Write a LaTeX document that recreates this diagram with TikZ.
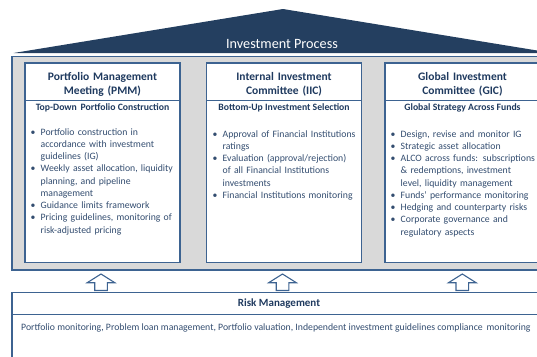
\documentclass[tikz,border=0pt]{standalone}
\usepackage{fontspec}
\setmainfont{Carlito}
\definecolor{roofblue}{HTML}{243F60}
\definecolor{edgeblue}{HTML}{3D6391}
\definecolor{titlenavy}{HTML}{1F3A5F}
\definecolor{bodyblue}{HTML}{334D70}
\definecolor{panelgray}{HTML}{D9D9D9}
\newcommand\bl[1]{\makebox[10pt][l]{\textbullet}#1}
\newcommand\cl[1]{\hspace*{10pt}#1}
\tikzset{
  colbox/.style={draw=edgeblue, line width=1.1pt, fill=white},
  coltitle/.style={anchor=base, text width=150pt, align=center, inner sep=0pt,
    text=titlenavy, font=\fontsize{11.5}{14.6}\selectfont\bfseries},
  colsub/.style={anchor=base, inner sep=0pt, text=titlenavy,
    font=\fontsize{9.7}{11}\selectfont\bfseries},
  colbody/.style={anchor=base west, text width=150pt, align=left, inner sep=0pt,
    text=bodyblue, font=\fontsize{9.75}{12.25}\selectfont},
  uparrow/.style={draw=edgeblue, line width=1.1pt, fill=white},
}
\begin{document}
\begin{tikzpicture}[x=1pt, y=-1pt]
\useasboundingbox (0,0) rectangle (537,356);
\begin{scope}
\clip (0,0) rectangle (537,356);

% roof
\fill[roofblue] (13.6,53) coordinate (roofL) -- (283,9) coordinate (apex)
  -- (552.4,53) coordinate (roofR) -- cycle;
\node[text=white, font=\fontsize{14.2}{16}\selectfont, inner sep=0pt, anchor=base]
  (roof) at (282,48.5) {Investment Process};

% gray panel holding the committees
\draw[edgeblue, line width=1.4pt, fill=panelgray] (12,56.5) rectangle (553,270);

% committee boxes
\draw[colbox] (25,63) rectangle (180,262.5);
\draw[edgeblue, line width=0.9pt] (25,100.7) -- (180,100.7);
\draw[colbox] (206.5,63) rectangle (361.5,262.5);
\draw[edgeblue, line width=0.9pt] (206.5,100.7) -- (361.5,100.7);
\draw[colbox] (385,63) rectangle (540,262.5);
\draw[edgeblue, line width=0.9pt] (385,100.7) -- (540,100.7);

\node[coltitle] (pmm) at (102.5,80) {Portfolio Management\\Meeting (PMM)};
\node[coltitle] (iic) at (284,80) {Internal Investment\\Committee (IIC)};
\node[coltitle] (gic) at (462.5,80) {Global Investment\\Committee (GIC)};

\node[colsub] (pmmsub) at (102.5,110.8) {Top-Down\, Portfolio Construction};
\node[colsub] (iicsub) at (284,110.8) {Bottom-Up Investment Selection};
\node[colsub] (gicsub) at (462.5,110.8) {Global Strategy Across Funds};

\node[colbody] (pmmbody) at (30.5,135) {%
  \bl{Portfolio construction in}\\
  \cl{accordance with investment}\\
  \cl{guidelines (IG)}\\
  \bl{Weekly asset allocation, liquidity}\\
  \cl{planning, and pipeline}\\
  \cl{management}\\
  \bl{Guidance limits framework}\\
  \bl{Pricing guidelines, monitoring of}\\
  \cl{risk-adjusted pricing}};

\node[colbody] (iicbody) at (212.5,137) {%
  \bl{Approval of Financial Institutions}\\
  \cl{ratings}\\
  \bl{Evaluation (approval/rejection)}\\
  \cl{of all Financial Institutions}\\
  \cl{investments}\\
  \bl{Financial Institutions monitoring}};

\node[colbody] (gicbody) at (390.5,137) {%
  \bl{Design, revise and monitor IG}\\
  \bl{Strategic asset allocation}\\
  \bl{ALCO across funds: subscriptions}\\
  \cl{\& redemptions, investment}\\
  \cl{level, liquidity management}\\
  \bl{Funds’ performance monitoring}\\
  \bl{Hedging and counterparty risks}\\
  \bl{Corporate governance and}\\
  \cl{regulatory aspects}};

% hollow up arrows from risk management
\foreach \n/\cx in {a1/101, a2/282.5, a3/462.3}{
  \draw[uparrow] (\cx-6.3,290.5) -- (\cx-6.3,282.7) -- (\cx-13.8,282.7)
    -- (\cx,274) -- (\cx+13.8,282.7) -- (\cx+6.3,282.7) -- (\cx+6.3,290.5) -- cycle;
}

% risk management box
\draw[colbox] (12,292.5) rectangle (553,370);
\draw[edgeblue, line width=0.9pt] (12,314.8) -- (553,314.8);
\node[anchor=base, inner sep=0pt, text=titlenavy,
  font=\fontsize{11}{13}\selectfont\bfseries] (risk) at (279,306.8) {Risk Management};
\node[anchor=base west, inner sep=0pt, text=bodyblue,
  font=\fontsize{9.75}{12}\selectfont] (riskbody) at (21,330.3)
  {Portfolio monitoring, Problem loan management, Portfolio valuation, Independent investment guidelines compliance\, monitoring};
\end{scope}
\end{tikzpicture}
\end{document}
